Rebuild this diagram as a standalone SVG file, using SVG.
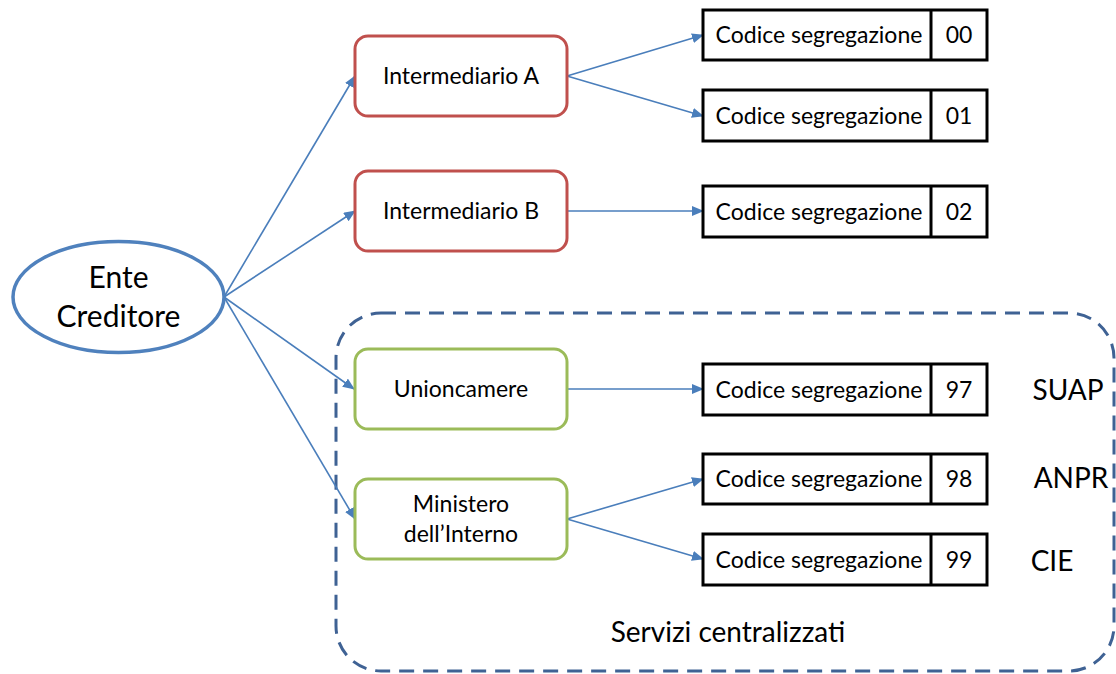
<svg xmlns="http://www.w3.org/2000/svg" width="1116" height="674" viewBox="0 0 1116 674">
<defs>
<style>
text{font-family:Lato,"Liberation Sans",sans-serif;fill:#000;text-anchor:middle}
.red{fill:#fff;stroke:#C0504D;stroke-width:3}
.green{fill:#fff;stroke:#9BBB59;stroke-width:3}
.code{fill:#fff;stroke:#000;stroke-width:3}
.div{stroke:#000;stroke-width:3}
.conn{stroke:#4A7EBB;stroke-width:1.6;fill:none;marker-end:url(#arr)}
.t22{font-size:22px}
.tc{font-size:23px}
.tn{font-size:23px}
.t28{font-size:28px}
</style>
<marker id="arr" markerWidth="12" markerHeight="10" refX="11" refY="5" orient="auto" markerUnits="userSpaceOnUse">
<path d="M0,0 L12,5 L0,10 Z" fill="#4A7EBB"/>
</marker>
</defs>
<rect width="1116" height="674" fill="#fff"/>
<g id="servizi">
<rect x="336" y="313" width="778" height="358" rx="45" fill="none" stroke="#3F6294" stroke-width="3" stroke-dasharray="15 9"/>
<text class="t28" x="728" y="642">Servizi centralizzati</text>
</g>
<g id="connectors">
<line class="conn" x1="224" y1="297" x2="355" y2="76"/>
<line class="conn" x1="224" y1="297" x2="355" y2="211"/>
<line class="conn" x1="224" y1="297" x2="354" y2="389"/>
<line class="conn" x1="224" y1="297" x2="355" y2="519"/>
<line class="conn" x1="567" y1="76" x2="703" y2="35"/>
<line class="conn" x1="567" y1="76" x2="703" y2="116"/>
<line class="conn" x1="567" y1="211" x2="703" y2="211"/>
<line class="conn" x1="567" y1="389" x2="703" y2="389"/>
<line class="conn" x1="567" y1="519" x2="703" y2="479"/>
<line class="conn" x1="567" y1="519" x2="703" y2="559"/>
</g>
<g id="ente">
<ellipse cx="118.5" cy="297" rx="105.5" ry="55.5" fill="#fff" stroke="#4F81BD" stroke-width="3.5"/>
<text x="118.5" y="288" font-size="30">Ente</text>
<text x="118.5" y="327" font-size="30">Creditore</text>
</g>
<g id="intA">
<rect class="red" x="355" y="36" width="212" height="80" rx="13"/>
<text class="tc" x="461" y="84">Intermediario A</text>
</g>
<g id="intB">
<rect class="red" x="355" y="171" width="212" height="80" rx="13"/>
<text class="tc" x="461" y="219">Intermediario B</text>
</g>
<g id="unioncamere">
<rect class="green" x="355" y="349" width="212" height="80" rx="13"/>
<text class="tc" x="461" y="397">Unioncamere</text>
</g>
<g id="ministero">
<rect class="green" x="355" y="479" width="212" height="80" rx="13"/>
<text class="tc" x="461" y="512">Ministero</text>
<text class="tc" x="461" y="542">dell’Interno</text>
</g>
<g id="code00">
<rect class="code" x="703" y="10" width="284" height="50"/>
<line class="div" x1="931" y1="10" x2="931" y2="60"/>
<text class="tc" x="819" y="43">Codice segregazione</text>
<text class="tn" x="959" y="43">00</text>
</g>
<g id="code01">
<rect class="code" x="703" y="90" width="284" height="51"/>
<line class="div" x1="931" y1="90" x2="931" y2="141"/>
<text class="tc" x="819" y="124">Codice segregazione</text>
<text class="tn" x="959" y="124">01</text>
</g>
<g id="code02">
<rect class="code" x="703" y="186" width="284" height="51"/>
<line class="div" x1="931" y1="186" x2="931" y2="237"/>
<text class="tc" x="819" y="220">Codice segregazione</text>
<text class="tn" x="959" y="220">02</text>
</g>
<g id="code97">
<rect class="code" x="703" y="364" width="284" height="51"/>
<line class="div" x1="931" y1="364" x2="931" y2="415"/>
<text class="tc" x="819" y="398">Codice segregazione</text>
<text class="tn" x="959" y="398">97</text>
</g>
<g id="code98">
<rect class="code" x="703" y="454" width="284" height="50"/>
<line class="div" x1="931" y1="454" x2="931" y2="504"/>
<text class="tc" x="819" y="487">Codice segregazione</text>
<text class="tn" x="959" y="487">98</text>
</g>
<g id="code99">
<rect class="code" x="703" y="534" width="284" height="51"/>
<line class="div" x1="931" y1="534" x2="931" y2="585"/>
<text class="tc" x="819" y="568">Codice segregazione</text>
<text class="tn" x="959" y="568">99</text>
</g>
<g id="labels">
<text class="t28" x="1068" y="400">SUAP</text>
<text class="t28" x="1071" y="488">ANPR</text>
<text class="t28" x="1052" y="571">CIE</text>
</g>
</svg>
